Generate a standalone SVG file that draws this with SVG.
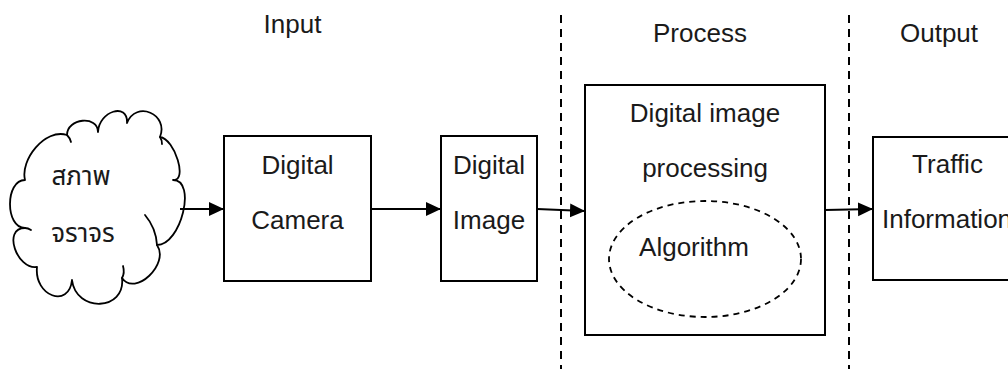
<svg xmlns="http://www.w3.org/2000/svg" width="1008" height="369" viewBox="0 0 1008 369">
  <style>
    .box { fill: #fff; stroke: #000; stroke-width: 2; }
    .cloud { fill: #fff; stroke: #000; stroke-width: 1.8; stroke-linejoin: round; }
    .tail { fill: none; stroke: #000; stroke-width: 1.8; stroke-linecap: round; }
    .lbl { font-family: "Liberation Sans", Arial, sans-serif; font-size: 26px; fill: #1a1a1a; text-anchor: middle; }
    .thai { font-family: "Noto Sans Thai", "Liberation Sans", "DejaVu Sans", sans-serif; font-size: 26px; fill: #1a1a1a; text-anchor: middle; }
    .divider { stroke: #000; stroke-width: 2; stroke-dasharray: 8 6; fill: none; }
    .edge { stroke: #000; stroke-width: 2; fill: none; marker-end: url(#arrow); }
    .oval { fill: none; stroke: #000; stroke-width: 1.8; stroke-dasharray: 6 5; }
  </style>
  <defs>
    <marker id="arrow" markerUnits="userSpaceOnUse" markerWidth="16" markerHeight="16" refX="15" refY="7" orient="auto">
      <path d="M0,0 L15,7 L0,14 Z" fill="#000"/>
    </marker>
  </defs>

  <rect width="1008" height="369" fill="#fff"/>

  <!-- stage headings -->
  <text class="lbl" x="292.5" y="33">Input</text>
  <text class="lbl" x="700" y="42">Process</text>
  <text class="lbl" x="939" y="42">Output</text>

  <!-- stage dividers -->
  <line class="divider" x1="561" y1="15" x2="561" y2="369"/>
  <line class="divider" x1="849" y1="15" x2="849" y2="369"/>

  <!-- traffic scene (cloud) -->
  <g id="traffic-scene">
    <path class="cloud" d="M67,135
      C67,118 98,115 98,132
      C99,111 128,102 127,123
      C136,100 169,114 160,137
      C175,139 188,182 173,180
      C197,180 181,245 157,245
      C170,264 135,297 122,278
      C126,311 76,313 72,280
      C69,309 34,296 37,267
      C17,270 2,228 25,228
      C5,228 5,180 25,180
      C20,160 45,128 67,135 Z"/>
    <path class="tail" d="M67,135 Q70,138 71,142"/>
    <path class="tail" d="M160,137 Q162,140 162,144"/>
    <path class="tail" d="M157,245 Q156,228 145,215"/>
    <path class="tail" d="M122,278 Q125,273 123,266"/>
    <path class="tail" d="M25,228 Q28,228 31,230"/>
    <text class="thai" x="81" y="185">สภาพ</text>
    <text class="thai" x="83" y="242">จราจร</text>
  </g>

  <g id="digital-camera">
    <rect class="box" x="224" y="136" width="147" height="145"/>
    <text class="lbl" x="297.5" y="174">Digital</text>
    <text class="lbl" x="297.5" y="229">Camera</text>
  </g>

  <g id="digital-image">
    <rect class="box" x="441" y="136" width="96" height="145"/>
    <text class="lbl" x="489" y="174">Digital</text>
    <text class="lbl" x="489" y="229">Image</text>
  </g>

  <g id="image-processing">
    <rect class="box" x="585" y="85" width="240" height="250"/>
    <text class="lbl" x="705" y="122">Digital image</text>
    <text class="lbl" x="705" y="177">processing</text>
    <ellipse class="oval" cx="705" cy="259" rx="96" ry="58"/>
    <text class="lbl" x="694" y="256">Algorithm</text>
  </g>

  <g id="traffic-information">
    <rect class="box" x="873" y="137" width="160" height="143"/>
    <text class="lbl" x="947.5" y="173">Traffic</text>
    <text class="lbl" x="882" y="228" style="text-anchor:start">Information</text>
  </g>

  <!-- connectors -->
  <g id="connectors">
    <line class="edge" x1="180" y1="209" x2="224" y2="209"/>
    <line class="edge" x1="371" y1="209" x2="441" y2="209"/>
    <line class="edge" x1="537" y1="209" x2="585" y2="211"/>
    <line class="edge" x1="825" y1="210" x2="873" y2="209"/>
  </g>
</svg>
